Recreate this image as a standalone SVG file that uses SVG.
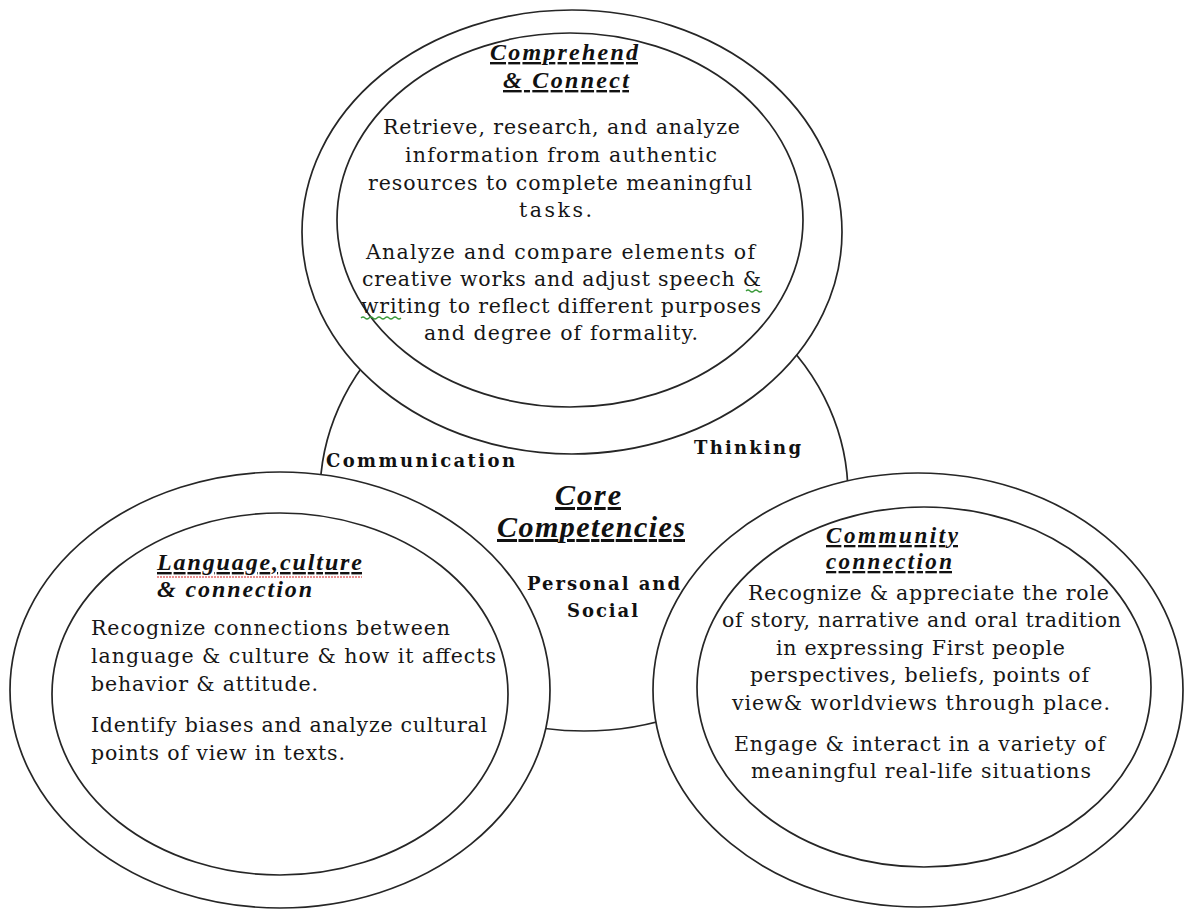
<svg xmlns="http://www.w3.org/2000/svg" width="1186" height="909" viewBox="0 0 1186 909">
<style>
.ring{fill:#fff;stroke:#262626;stroke-width:1.7}
.body{font-family:"DejaVu Serif","Liberation Serif",serif;font-size:20.5px;fill:#161616}
.head{font-family:"Liberation Serif",serif;font-weight:bold;font-style:italic;font-size:24px;fill:#111;text-decoration:underline}
.sm{font-size:23px}
.lab{font-family:"DejaVu Serif","Liberation Serif",serif;font-weight:bold;font-size:18px;fill:#111}
.core{font-family:"Liberation Serif",serif;font-weight:bold;font-style:italic;font-size:30px;fill:#111;text-decoration:underline}
.spellg{fill:none;stroke:#3a9a3a;stroke-width:1.2}
.spellr{fill:none;stroke:#d02020;stroke-width:1.2;stroke-dasharray:2 1}
</style>
<rect width="1186" height="909" fill="#fff"/>
<g id="core">
<ellipse class="ring" cx="584" cy="495" rx="264" ry="236"/>
<text class="lab" x="326" y="467" textLength="189" lengthAdjust="spacing">Communication</text>
<text class="lab" x="694" y="454" textLength="107" lengthAdjust="spacing">Thinking</text>
<text class="core" x="555" y="505" textLength="66" lengthAdjust="spacing">Core</text>
<text class="core" x="497" y="537" textLength="188" lengthAdjust="spacing">Competencies</text>
<text class="lab" x="527" y="590" textLength="153" lengthAdjust="spacing">Personal and</text>
<text class="lab" x="567" y="617" textLength="71" lengthAdjust="spacing">Social</text>
</g>
<g id="comprehend">
<ellipse class="ring" cx="572" cy="232" rx="270" ry="222"/>
<ellipse class="ring" cx="570" cy="220" rx="233" ry="187"/>
<text class="head" x="490" y="60" textLength="148" lengthAdjust="spacing">Comprehend</text>
<text class="head" x="503" y="88" textLength="126" lengthAdjust="spacing">&amp; Connect</text>
<text class="body" x="383" y="134" textLength="357" lengthAdjust="spacing">Retrieve, research, and analyze</text>
<text class="body" x="405" y="162" textLength="312" lengthAdjust="spacing">information from authentic</text>
<text class="body" x="368" y="190" textLength="384" lengthAdjust="spacing">resources to complete meaningful</text>
<text class="body" x="519" y="217" textLength="73" lengthAdjust="spacing">tasks.</text>
<text class="body" x="366" y="259" textLength="389" lengthAdjust="spacing">Analyze and compare elements of</text>
<text class="body" x="362" y="286" textLength="399" lengthAdjust="spacing">creative works and adjust speech &amp;</text>
<text class="body" x="361" y="313" textLength="400" lengthAdjust="spacing">writing to reflect different purposes</text>
<text class="body" x="424" y="340" textLength="274" lengthAdjust="spacing">and degree of formality.</text>
<path class="spellg" d="M746 291 q2 -2 4 0 t4 0 t4 0 t4 0"/>
<path class="spellg" d="M361 318 q2 -2 4 0 t4 0 t4 0 t4 0 t4 0 t4 0 t4 0 t4 0 t4 0 t4 0"/>
</g>
<g id="language">
<ellipse class="ring" cx="280" cy="690" rx="270" ry="218"/>
<ellipse class="ring" cx="280" cy="694" rx="228" ry="181"/>
<text class="head" x="157" y="570" textLength="205" lengthAdjust="spacing">Language,culture</text>
<path class="spellr" d="M157 577 H362"/>
<text class="head" x="157" y="597" textLength="155" lengthAdjust="spacing" style="text-decoration:none">&amp; connection</text>
<text class="body" x="91" y="635" textLength="359" lengthAdjust="spacing">Recognize connections between</text>
<text class="body" x="91" y="663" textLength="405" lengthAdjust="spacing">language &amp; culture &amp; how it affects</text>
<text class="body" x="91" y="691" textLength="227" lengthAdjust="spacing">behavior &amp; attitude.</text>
<text class="body" x="91" y="732" textLength="396" lengthAdjust="spacing">Identify biases and analyze cultural</text>
<text class="body" x="91" y="760" textLength="254" lengthAdjust="spacing">points of view in texts.</text>
</g>
<g id="community">
<ellipse class="ring" cx="918" cy="690" rx="265" ry="217"/>
<ellipse class="ring" cx="924" cy="687" rx="227" ry="180"/>
<text class="head sm" x="826" y="543" textLength="132" lengthAdjust="spacing">Community</text>
<text class="head sm" x="826" y="569" textLength="126" lengthAdjust="spacing">connection</text>
<text class="body" x="748" y="600" textLength="361" lengthAdjust="spacing">Recognize &amp; appreciate the role</text>
<text class="body" x="722" y="627" textLength="399" lengthAdjust="spacing">of story, narrative and oral tradition</text>
<text class="body" x="776" y="655" textLength="289" lengthAdjust="spacing">in expressing First people</text>
<text class="body" x="750" y="682" textLength="339" lengthAdjust="spacing">perspectives, beliefs, points of</text>
<text class="body" x="732" y="710" textLength="378" lengthAdjust="spacing">view&amp; worldviews through place.</text>
<text class="body" x="734" y="751" textLength="371" lengthAdjust="spacing">Engage &amp; interact in a variety of</text>
<text class="body" x="751" y="778" textLength="340" lengthAdjust="spacing">meaningful real-life situations</text>
</g>
<g id="connectors"></g>
</svg>
